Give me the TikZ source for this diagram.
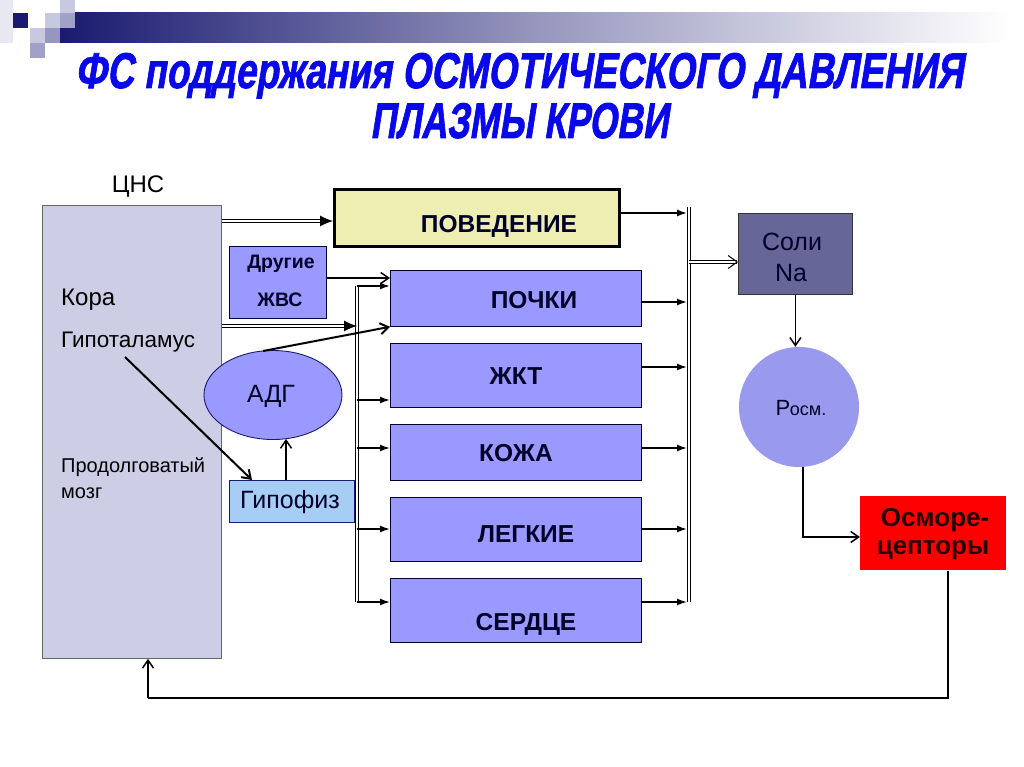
\documentclass[tikz,border=0pt]{standalone}
\usepackage{fontspec}
\setmainfont{Liberation Sans}
\newfontfamily\titlefont{Liberation Sans}[BoldFeatures={FakeBold=1.8, FakeSlant=0.22}]
\usetikzlibrary{arrows.meta,shapes.geometric,calc}
\definecolor{titleblue}{RGB}{8,8,235}
\definecolor{cnsfill}{RGB}{205,205,230}
\definecolor{organfill}{RGB}{153,153,255}
\definecolor{behfill}{RGB}{238,238,178}
\definecolor{hypfill}{RGB}{166,206,245}
\definecolor{saltfill}{RGB}{102,102,153}
\definecolor{circfill}{RGB}{153,153,238}
\definecolor{navy}{RGB}{26,26,112}
\definecolor{darktext}{RGB}{0,0,40}
\definecolor{barmid}{RGB}{150,150,190}
\definecolor{sqA}{RGB}{232,232,242}
\definecolor{sqB}{RGB}{200,200,225}
\definecolor{sqC}{RGB}{160,160,200}
\definecolor{sqD}{RGB}{150,150,195}
\definecolor{osmotext}{RGB}{40,0,0}
\begin{document}
\begin{tikzpicture}[x=1pt,y=-1pt,
  box/.style={anchor=north west, inner sep=0pt, line width=0.8pt},
  organ/.style={box, draw=black!80!blue, fill=organfill, minimum width=251pt},
  txt/.style={inner sep=0pt, text=black},
  btxt/.style={inner sep=0pt, text=darktext, font=\fontsize{24.5}{28}\selectfont\bfseries},
  line/.style={line width=1.5pt, draw=black},
  fa/.style={line, -{Latex[length=10pt,width=7pt]}},
  oa/.style={line, -{Straight Barb[length=8pt,width=11pt]}},
  dbl/.style={line width=1pt, double distance=2.6pt, draw=black},
]
\useasboundingbox (0,0) rectangle (1024,767);
% decoration
\shade[left color=navy, right color=white, middle color=barmid] (60,13) rectangle (1010,43);
\fill[white] (0,0) rectangle (75,13);
\fill[sqA] (0,0) rectangle (13,43);
\fill[navy] (13,13) rectangle (28,28);
\fill[sqB] (45,13) rectangle (60,28);
\fill[sqB] (60,0) rectangle (75,13);
\fill[sqC] (60,13) rectangle (75,28);
\fill[sqB] (30,28) rectangle (45,43);
\fill[sqD] (45,28) rectangle (60,43);
\fill[sqC] (30,43) rectangle (45,58);
% title
\node[anchor=base west, inner sep=0pt, text=titleblue] (t1) at (75,88)
  {\resizebox{888pt}{35pt}{\titlefont\bfseries ФС поддержания ОСМОТИЧЕСКОГО ДАВЛЕНИЯ}};
\node[anchor=base west, inner sep=0pt, text=titleblue] (t2) at (370,138)
  {\resizebox{298pt}{35pt}{\titlefont\bfseries ПЛАЗМЫ КРОВИ}};
% CNS
\node[box, draw=black!60, fill=cnsfill, minimum width=179pt, minimum height=453pt] (cns) at (42,205) {};
\node[txt, font=\fontsize{24}{28}\selectfont] (cnsl) at (138,187) {ЦНС};
\node[txt, anchor=west, font=\fontsize{24}{28}\selectfont] (kora) at (61,300) {Кора};
\node[txt, anchor=west, font=\fontsize{22.5}{26}\selectfont] (hyp) at (61,342) {Гипоталамус};
\node[txt, anchor=west, font=\fontsize{20}{24}\selectfont] (prod) at (61,467) {Продолговатый};
\node[txt, anchor=west, font=\fontsize{20}{24}\selectfont] (mozg) at (61,493) {мозг};
% behaviour
\node[box, draw=black, line width=2.8pt, fill=behfill, minimum width=285pt, minimum height=57pt] (beh) at (333,188) {};
\node[btxt] (behl) at (499,226) {ПОВЕДЕНИЕ};
% other
\node[box, draw=black!70!blue, fill=organfill, minimum width=97pt, minimum height=72pt] (oth) at (229,246) {};
\node[btxt, font=\fontsize{19.5}{22}\selectfont\bfseries] (oth1) at (281,264) {Другие};
\node[btxt, font=\fontsize{19.5}{22}\selectfont\bfseries] (oth2) at (280,300) {ЖВС};
% organs
\node[organ, minimum height=56pt] (pochki) at (390,270) {};
\node[organ, minimum height=64pt] (zhkt) at (390,343) {};
\node[organ, minimum height=56pt] (kozha) at (390,424) {};
\node[organ, minimum height=64pt] (legk) at (390,497) {};
\node[organ, minimum height=64pt] (serd) at (390,578) {};
\node[btxt] (pochkil) at (534,300) {ПОЧКИ};
\node[btxt] (zhktl) at (516,376) {ЖКТ};
\node[btxt] (kozhal) at (516,453) {КОЖА};
\node[btxt] (legkl) at (526,534) {ЛЕГКИЕ};
\node[btxt] (serdl) at (526,624) {СЕРДЦЕ};
% ADH and pituitary
\node[ellipse, draw=navy, line width=0.9pt, fill=organfill, minimum width=138pt, minimum height=89pt, inner sep=0pt] (adg) at (273,395) {};
\node[txt, font=\fontsize{25}{28}\selectfont, text=darktext] (adgl) at (271,396) {АДГ};
\node[box, draw=navy, fill=hypfill, minimum width=125pt, minimum height=42pt] (gip) at (229,480) {};
\node[txt, font=\fontsize{25}{28}\selectfont, text=darktext] (gipl) at (290,502) {Гипофиз};
% salts, osm pressure, osmoreceptors
\node[box, draw=black!80, fill=saltfill, minimum width=114pt, minimum height=81pt] (salt) at (738,213) {};
\node[txt, font=\fontsize{25}{28}\selectfont, text=darktext] (salt1) at (792,242) {Соли};
\node[txt, font=\fontsize{25}{28}\selectfont, text=darktext] (salt2) at (791,273) {Na};
\node[circle, fill=circfill, minimum size=120pt, inner sep=0pt] (rosm) at (799,407) {};
\node[txt, font=\fontsize{22}{26}\selectfont, text=darktext] (rosml) at (801,408) {Р\kern-0.5pt{\fontsize{18}{22}\selectfont осм.}};
\node[box, fill=red, minimum width=146pt, minimum height=74pt] (osmo) at (860,496) {};
\node[btxt, font=\fontsize{26}{30}\selectfont\bfseries, text=osmotext] (osmo1) at (935,520) {Осморе-};
\node[btxt, font=\fontsize{26}{30}\selectfont\bfseries, text=osmotext] (osmo2) at (933,550) {цепторы};
% bus coordinates
\coordinate (lbt) at (357,286);
\coordinate (lbb) at (357,602);
\coordinate (rbt) at (689,207);
\coordinate (rbb) at (689,602);
\coordinate (hypout) at (125,357);
\coordinate (adgtop) at (263,351);
\coordinate (fbr) at (948,698);
\coordinate (fbl) at (148,698);
% buses
\draw[dbl] (lbt) -- (lbb);
\draw[dbl] (rbt) -- (rbb);
% left bus to organs
\draw[fa] (lbt) -- (pochki.west |- lbt);
\draw[fa] (357,400) -- (zhkt.west |- 0,400);
\draw[fa] (357,448) -- (kozha.west |- 0,448);
\draw[fa] (357,529) -- (legk.west |- 0,529);
\draw[fa] (lbb) -- (serd.west |- lbb);
% organs to right bus
\draw[fa] (beh.east |- 0,213) -- (687,213);
\draw[fa] (pochki.east |- 0,302) -- (687,302);
\draw[fa] (zhkt.east |- 0,367) -- (687,367);
\draw[fa] (kozha.east |- 0,448) -- (687,448);
\draw[fa] (legk.east |- 0,529) -- (687,529);
\draw[fa] (serd.east |- 0,602) -- (687,602);
% CNS outputs
\draw[dbl, -{Latex[length=13pt,width=11pt]}] (cns.east |- 0,221) -- (beh.west |- 0,221);
\draw[dbl, -{Latex[length=13pt,width=11pt]}] (cns.east |- 0,326) -- (lbt |- 0,326);
\draw[oa] (oth.east |- 0,278) -- (pochki.west |- 0,278);
\draw[oa, line width=2pt] (adgtop) -- (pochki.south west);
\draw[oa, line width=2pt] (hypout) -- (gip.north west -| 252,0);
\draw[oa] (gip.north -| 286,0) -- (286,439);
% right side
\draw[dbl, -{Straight Barb[length=9pt,width=13pt]}] (rbt |- 0,262) -- (salt.west |- 0,262);
\draw[oa] (salt.south) -- (salt.south |- rosm.north);
\draw[oa] (rosm.south -| 803,0) |- (osmo.west |- 0,537);
\draw[line] (osmo.south -| fbr) -- (fbr) -- (fbl);
\draw[oa] (fbl) -- (cns.south -| fbl);
\end{tikzpicture}
\end{document}
